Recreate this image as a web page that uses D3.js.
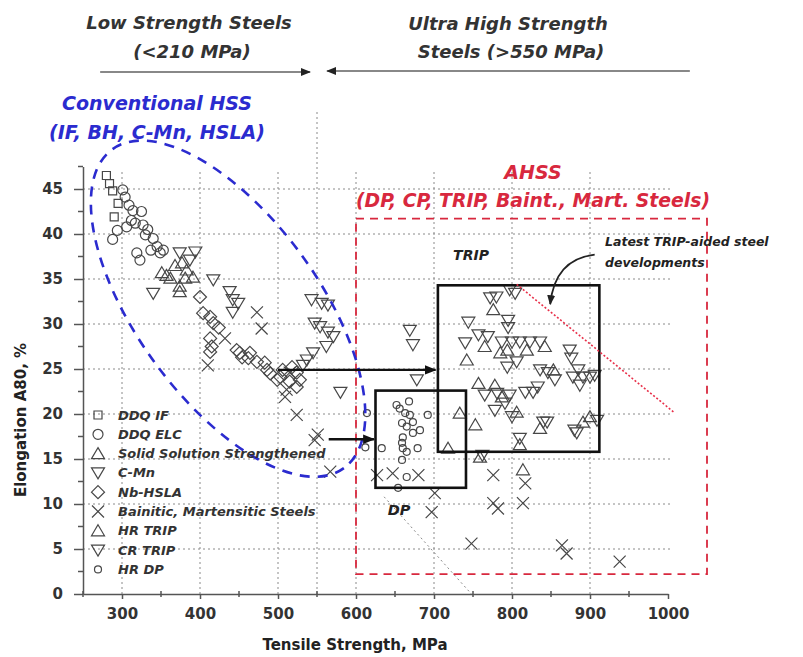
<!DOCTYPE html>
<html>
<head>
    <meta charset="utf-8" />
    <script src="https://d3js.org/d3.v7.min.js"></script>
    <title>Elongation vs Tensile Strength</title>
    <style>
        body { margin: 0; background: #fff; }
        text { font-family: "DejaVu Sans", Verdana, sans-serif; }
    </style>
</head>
<body>
    <svg id="chart"></svg>
    <script type="text/javascript">
        // --- data (tensile strength MPa, elongation %) ---
        const ddqIF = [[280, 46.5], [284, 45.6], [288, 44.8], [290, 41.9], [295, 43.4]];
        const ddqELC = [[288, 39.4], [294, 40.4], [301, 44.9], [304, 44.1], [309, 43.2], [312, 41.5], [317, 41.2],
            [325, 42.5], [319, 37.9], [323, 37.1], [330, 39.9], [333, 40.5], [340, 39.5], [345, 38.6], [349, 37.9],
            [353, 38.2], [314, 42.6], [306, 40.8], [327, 41], [337, 38.2]];
        const solidSol = [[351, 35.7], [357, 35.4], [362, 35.1], [374, 34.2], [377, 36.8], [381, 35.1], [391, 35.2],
            [374, 33.6], [383, 36], [368, 36.5]];
        const cMn = [[340, 33.4], [374, 37.9], [387, 37.1], [394, 38], [417, 34.9], [438, 33.6], [442, 32.7], [449, 32.3],
            [442, 31.3], [543, 32.7], [556, 32.3], [564, 32.1], [547, 30.1], [554, 29.7], [564, 29.1], [571, 28.6],
            [562, 27.5], [545, 26.8], [537, 26], [532, 25.4], [580, 22.4], [669, 29.3], [673, 27.7], [678, 23.8]];
        const nbHSLA = [[400, 33], [404, 31.2], [413, 30.8], [417, 30.1], [424, 29.6], [413, 28.4], [415, 27.5], [413, 26.9],
            [447, 27.1], [451, 26.8], [454, 26.3], [462, 26.2], [464, 26.8], [473, 25.8], [483, 25.7], [486, 24.9],
            [490, 24.5], [499, 23.8], [503, 24.1], [506, 24.9], [515, 23.6], [518, 25.2], [524, 24.6], [524, 23], [528, 23.8]];
        const bainitic = [[410, 25.4], [432, 28.4], [473, 31.3], [479, 29.5], [511, 22.7], [515, 24.6], [509, 21.9],
            [524, 19.9], [547, 17.1], [551, 17.7], [567, 13.6], [627, 13.2], [647, 13.4], [680, 13.2], [701, 11.2],
            [697, 9.1], [748, 5.6], [776, 13.2], [817, 12.3], [776, 10.1], [782, 9.5], [814, 10.1], [864, 5.4],
            [870, 4.5], [938, 3.6]];
        const hrTRIP = [[776, 31.6], [765, 27.5], [742, 26], [819, 27.1], [794, 27.1], [757, 23.4], [778, 23.2], [733, 20.1],
            [753, 18.8], [836, 18.4], [891, 19.1], [810, 16.6], [718, 16.2], [759, 15.2], [814, 13.8], [806, 20.2],
            [785, 26.8], [842, 27.5], [853, 24.9], [900, 19.7], [787, 21.9]];
        const crTRIP = [[772, 32.9], [780, 33], [797, 33.8], [804, 33.4], [744, 30.2], [795, 30.4], [795, 29.6], [757, 28.8],
            [769, 28.6], [740, 27.9], [787, 28], [800, 28], [810, 28], [823, 28], [836, 28], [874, 27.1], [876, 26.2],
            [794, 25.2], [806, 25.8], [836, 24.9], [846, 24.6], [855, 23.8], [878, 24.1], [885, 24.9], [891, 24.1],
            [900, 24.1], [906, 24.3], [887, 23.2], [765, 22.1], [781, 22.3], [791, 21.2], [797, 22.1], [778, 20.4],
            [800, 19.7], [817, 22.4], [827, 22.4], [833, 23], [840, 19.1], [845, 19.1], [880, 18.2], [883, 17.9],
            [909, 19.3], [810, 17.3], [762, 15.4]];
        const hrDP = [[652, 21], [656, 20.6], [663, 20.1], [669, 19.9], [673, 19.1], [659, 19], [665, 18.6], [682, 18.2],
            [673, 17.9], [660, 17.4], [659, 16.8], [660, 16.2], [679, 16.2], [665, 15.8], [659, 14.9], [692, 19.9],
            [633, 16.2], [614, 20.1], [665, 13], [654, 11.8], [612, 16.3], [668, 21.4]];

        const seriesNames = ["DDQ IF", "DDQ ELC", "Solid Solution Strengthened", "C-Mn", "Nb-HSLA",
            "Bainitic, Martensitic Steels", "HR TRIP", "CR TRIP", "HR DP"];
        const seriesShapes = ["square", "circle", "up", "down", "diamond", "x", "up", "down", "dot"];
        const seriesData = [ddqIF, ddqELC, solidSol, cMn, nbHSLA, bainitic, hrTRIP, crTRIP, hrDP];

        const xTicks = [300, 400, 500, 600, 700, 800, 900, 1000];
        const xMinor = [250, 350, 450, 550, 650, 750, 850, 950];
        const yTicks = [0, 5, 10, 15, 20, 25, 30, 35, 40, 45];
        const yMinor = [2.5, 7.5, 12.5, 17.5, 22.5, 27.5, 32.5, 37.5, 42.5, 47.5];

        // annotation boxes [x0, x1, y0, y1] in data units
        const tripBox = [705, 912, 15.8, 34.3];
        const dpBox = [625, 741, 11.8, 22.6];
        const ahssBox = [600, 1050, 2.2, 41.7];
        const tripLine = [[806, 34.4], [1009, 20.1]];
        const dpDotLine = [[636, 10.8], [748, 0]];
        const arrowUpper = [[500, 24.9], [702, 24.9]];
        const arrowLower = [[565, 17.2], [623, 17.2]];
        const hssEllipse = { cx: 436, cy: 31.7 };

        const width = 803, height = 657;
        const svg = d3.select('#chart').attr('width', width).attr('height', height);

        const x = d3.scaleLinear().domain([250, 1000]).range([83, 668]);
        const y = d3.scaleLinear().domain([0, 47.5]).range([594, 166.5]);

        const defs = svg.append('defs');
        function marker(id, color, size) {
            defs.append('marker')
                .attr('id', id).attr('viewBox', '0 0 10 10')
                .attr('refX', 9).attr('refY', 5)
                .attr('markerWidth', size).attr('markerHeight', size)
                .attr('markerUnits', 'userSpaceOnUse')
                .attr('orient', 'auto')
                .append('path').attr('d', 'M0,1 L10,5 L0,9 Z').attr('fill', color);
        }
        marker('ahead', '#111', 12);
        marker('ghead', '#222', 10);

        // grid
        const grid = svg.append('g').attr('stroke', '#8a8a8a').attr('stroke-width', 1).attr('stroke-dasharray', '2,3');
        xTicks.filter(d => d < 1000).forEach(function (d) {
            grid.append('line').attr('x1', x(d)).attr('x2', x(d)).attr('y1', y(0)).attr('y2', y(46.9));
        });
        yTicks.filter(d => d > 0).forEach(function (d) {
            grid.append('line').attr('x1', x(250)).attr('x2', x(1005)).attr('y1', y(d)).attr('y2', y(d));
        });
        // 550 MPa divider running up to the header
        grid.append('line').attr('x1', x(550)).attr('x2', x(550)).attr('y1', y(0)).attr('y2', y(53.8));
        grid.append('line').attr('x1', x(dpDotLine[0][0])).attr('y1', y(dpDotLine[0][1]))
            .attr('x2', x(dpDotLine[1][0])).attr('y2', y(dpDotLine[1][1]));

        // axes
        const axisColor = '#555';
        const yAxis = svg.append('g').attr('transform', 'translate(' + x(250) + ',0)')
            .call(d3.axisLeft(y).tickValues(yTicks).tickSize(9).tickSizeOuter(0).tickPadding(11));
        yAxis.selectAll('line').attr('stroke', axisColor).attr('stroke-width', 1.5);
        yAxis.select('.domain').attr('stroke', axisColor).attr('stroke-width', 1.5);
        yAxis.selectAll('text').attr('font-size', 15).attr('font-weight', 'bold').attr('fill', '#333')
            .attr('font-family', '"DejaVu Sans", sans-serif');
        yMinor.forEach(function (d) {
            yAxis.append('line').attr('x1', -5).attr('x2', 0).attr('y1', y(d)).attr('y2', y(d))
                .attr('stroke', axisColor).attr('stroke-width', 1.5);
        });

        const xAxis = svg.append('g').attr('transform', 'translate(0,' + y(0) + ')')
            .call(d3.axisBottom(x).tickValues(xTicks).tickFormat(d3.format('d'))
                .tickSize(5).tickSizeOuter(0).tickPadding(9));
        xAxis.selectAll('line').attr('stroke', axisColor).attr('stroke-width', 1.5);
        xAxis.select('.domain').attr('stroke', axisColor).attr('stroke-width', 1.5);
        xAxis.selectAll('text').attr('font-size', 15).attr('font-weight', 'bold').attr('fill', '#333')
            .attr('font-family', '"DejaVu Sans", sans-serif');
        xMinor.forEach(function (d) {
            xAxis.append('line').attr('x1', x(d)).attr('x2', x(d)).attr('y1', -3).attr('y2', 3)
                .attr('stroke', axisColor).attr('stroke-width', 1.5);
        });

        svg.append('text').attr('x', 355).attr('y', 645).attr('dy', '0.35em').attr('text-anchor', 'middle')
            .attr('font-size', 15).attr('font-weight', 'bold').attr('fill', '#222')
            .text('Tensile Strength, MPa');
        svg.append('text').attr('transform', 'translate(21,420) rotate(-90)').attr('dy', '0.35em')
            .attr('text-anchor', 'middle')
            .attr('font-size', 15).attr('font-weight', 'bold').attr('fill', '#222')
            .text('Elongation A80, %');

        // marker shapes
        function shapePath(type) {
            if (type === 'square') return 'M-4,-4H4V4H-4Z';
            if (type === 'circle') return 'M5,0A5,5 0 1,1 -5,0A5,5 0 1,1 5,0Z';
            if (type === 'dot') return 'M3.5,0A3.5,3.5 0 1,1 -3.5,0A3.5,3.5 0 1,1 3.5,0Z';
            if (type === 'up') return 'M0,-6L6.5,5H-6.5Z';
            if (type === 'down') return 'M0,6L6.5,-5H-6.5Z';
            if (type === 'diamond') return 'M0,-6.5L6.5,0L0,6.5L-6.5,0Z';
            if (type === 'x') return 'M-6,-6L6,6M-6,6L6,-6';
        }

        // regions behind the points
        svg.append('rect')
            .attr('x', x(ahssBox[0])).attr('y', y(ahssBox[3]))
            .attr('width', x(ahssBox[1]) - x(ahssBox[0])).attr('height', y(ahssBox[2]) - y(ahssBox[3]))
            .attr('fill', 'none').attr('stroke', '#d8283e').attr('stroke-width', 1.8).attr('stroke-dasharray', '8,6');

        const pts = svg.append('g');
        seriesData.forEach(function (data, i) {
            pts.selectAll('.s' + i).data(data).enter().append('path')
                .attr('class', 's' + i)
                .attr('transform', d => 'translate(' + x(d[0]) + ',' + y(d[1]) + ')')
                .attr('d', shapePath(seriesShapes[i]))
                .attr('fill', 'none').attr('stroke', '#474747').attr('stroke-width', 1.2);
        });

        // conventional HSS ellipse
        svg.append('ellipse')
            .attr('transform', 'translate(' + x(hssEllipse.cx) + ',' + y(hssEllipse.cy) + ') rotate(54)')
            .attr('rx', 197).attr('ry', 91)
            .attr('fill', 'none').attr('stroke', '#2b2bcf').attr('stroke-width', 2.6).attr('stroke-dasharray', '10,8');

        [tripBox, dpBox].forEach(function (b) {
            svg.append('rect')
                .attr('x', x(b[0])).attr('y', y(b[3]))
                .attr('width', x(b[1]) - x(b[0])).attr('height', y(b[2]) - y(b[3]))
                .attr('fill', 'none').attr('stroke', '#111').attr('stroke-width', 2.6);
        });

        svg.append('line')
            .attr('x1', x(tripLine[0][0])).attr('y1', y(tripLine[0][1]))
            .attr('x2', x(tripLine[1][0])).attr('y2', y(tripLine[1][1]))
            .attr('stroke', '#e8304a').attr('stroke-width', 1.6).attr('stroke-dasharray', '2,2');

        [arrowUpper, arrowLower].forEach(function (a) {
            svg.append('line')
                .attr('x1', x(a[0][0])).attr('y1', y(a[0][1]))
                .attr('x2', x(a[1][0])).attr('y2', y(a[1][1]))
                .attr('stroke', '#111').attr('stroke-width', 2.4).attr('marker-end', 'url(#ahead)');
        });

        // curved arrow to the TRIP line
        svg.append('path')
            .attr('d', 'M' + x(906) + ',' + y(37.7) + ' Q' + x(855) + ',' + y(37.2) + ' ' + x(849) + ',' + y(32.2))
            .attr('fill', 'none').attr('stroke', '#222').attr('stroke-width', 1.8).attr('marker-end', 'url(#ghead)');

        // header arrows
        svg.append('line').attr('x1', x(272)).attr('x2', x(541)).attr('y1', 72).attr('y2', 72)
            .attr('stroke', '#888').attr('stroke-width', 2).attr('marker-end', 'url(#ghead)');
        svg.append('line').attr('x1', x(1028)).attr('x2', x(563)).attr('y1', 71).attr('y2', 71)
            .attr('stroke', '#888').attr('stroke-width', 2).attr('marker-end', 'url(#ghead)');

        // texts
        function label(tx, ty, str, size, color, anchor) {
            svg.append('text').attr('x', tx).attr('y', ty).attr('dy', '0.35em')
                .attr('text-anchor', anchor || 'middle')
                .attr('font-size', size).attr('font-weight', 'bold').attr('font-style', 'italic')
                .attr('fill', color).text(str);
        }
        label(189, 23, 'Low Strength Steels', 18, '#333');
        label(192, 52, '(<210 MPa)', 18, '#333');
        label(508, 24, 'Ultra High Strength', 18, '#333');
        label(511, 52, 'Steels (>550 MPa)', 18, '#333');
        label(157, 103, 'Conventional HSS', 19, '#2b2bcf');
        label(157, 132, '(IF, BH, C-Mn, HSLA)', 19, '#2b2bcf');
        label(533, 172, 'AHSS', 19, '#d8283e');
        label(533, 200, '(DP, CP, TRIP, Baint., Mart. Steels)', 18.8, '#d8283e');
        label(471, 255, 'TRIP', 14, '#222');
        label(399, 510, 'DP', 14.5, '#222');
        label(605, 242, 'Latest TRIP-aided steel', 12.5, '#222', 'start');
        label(605, 263, 'developments', 12.5, '#222', 'start');

        // legend
        const legend = svg.append('g').attr('transform', 'translate(98,415)');
        seriesNames.forEach(function (name, i) {
            const row = legend.append('g').attr('transform', 'translate(0,' + (i * 19.3) + ')');
            row.append('path').attr('d', shapePath(seriesShapes[i]))
                .attr('fill', 'none').attr('stroke', '#474747').attr('stroke-width', 1.2);
            row.append('text').attr('x', 20).attr('dy', '0.35em')
                .attr('font-size', 13).attr('font-weight', 'bold').attr('font-style', 'italic')
                .attr('fill', '#333').text(name);
        });
    </script>
</body>
</html>
